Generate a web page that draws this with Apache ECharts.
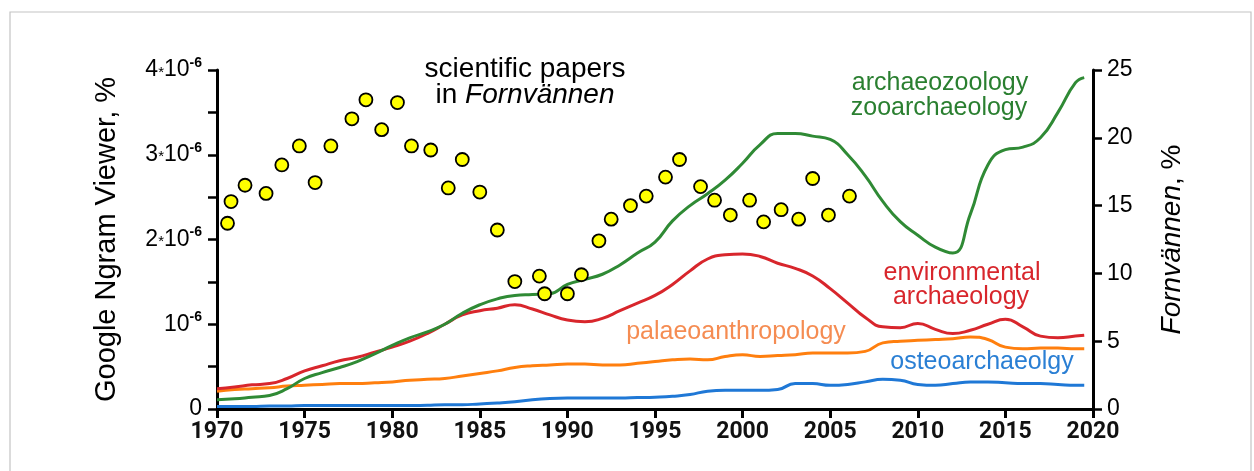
<!DOCTYPE html>
<html>
<head>
<meta charset="utf-8">
<script src="https://cdn.jsdelivr.net/npm/echarts@6/dist/echarts.min.js"></script>
<style>
  html, body { margin: 0; padding: 0; background: #fff; }
  #chart { width: 1254px; height: 471px; }
</style>
</head>
<body>
<div id="chart"></div>
<script>
// Google Ngram shares, in units of 10^-6 %
const lineYears = [1970, 1971, 1972, 1973, 1974, 1975, 1976, 1977, 1978, 1979,
  1980, 1981, 1982, 1983, 1984, 1985, 1986, 1987, 1988, 1989,
  1990, 1991, 1992, 1993, 1994, 1995, 1996, 1997, 1998, 1999,
  2000, 2001, 2002, 2003, 2004, 2005, 2006, 2007, 2008, 2009,
  2010, 2011, 2012, 2013, 2014, 2015, 2016, 2017, 2018, 2019, 2019.5]

const zooarch = [0.11, 0.12, 0.14, 0.16, 0.24, 0.36, 0.43, 0.49, 0.56, 0.65,
  0.75, 0.84, 0.91, 1.00, 1.13, 1.23, 1.30, 1.34, 1.35, 1.36,
  1.47, 1.53, 1.59, 1.70, 1.84, 1.97, 2.22, 2.40, 2.54, 2.70,
  2.90, 3.12, 3.25, 3.25, 3.22, 3.18, 3.00, 2.75, 2.45, 2.21,
  2.05, 1.91, 1.84, 2.30, 2.88, 3.06, 3.09, 3.20, 3.50, 3.85, 3.91]

const envArch = [0.24, 0.26, 0.285, 0.30, 0.36, 0.45, 0.51, 0.57, 0.61, 0.67,
  0.73, 0.80, 0.89, 1.00, 1.11, 1.16, 1.19, 1.23, 1.18, 1.11,
  1.05, 1.03, 1.07, 1.16, 1.25, 1.34, 1.47, 1.63, 1.77, 1.82,
  1.83, 1.80, 1.72, 1.66, 1.57, 1.42, 1.25, 1.08, 0.97, 0.96,
  1.01, 0.94, 0.89, 0.93, 1.00, 1.06, 0.97, 0.86, 0.84, 0.86, 0.87]

const palaeoAnthro = [0.21, 0.23, 0.24, 0.25, 0.27, 0.28, 0.29, 0.30, 0.30, 0.31,
  0.32, 0.34, 0.35, 0.36, 0.39, 0.42, 0.45, 0.49, 0.51, 0.52,
  0.53, 0.53, 0.52, 0.52, 0.54, 0.56, 0.58, 0.59, 0.58, 0.62,
  0.64, 0.62, 0.63, 0.64, 0.66, 0.66, 0.66, 0.68, 0.78, 0.80,
  0.81, 0.82, 0.83, 0.85, 0.82, 0.73, 0.71, 0.72, 0.72, 0.71, 0.71]

const osteoArch = [0.03, 0.03, 0.03, 0.035, 0.035, 0.04, 0.04, 0.04, 0.04, 0.04,
  0.04, 0.04, 0.045, 0.05, 0.05, 0.06, 0.07, 0.085, 0.11, 0.125,
  0.13, 0.13, 0.13, 0.13, 0.135, 0.14, 0.15, 0.17, 0.21, 0.22,
  0.22, 0.22, 0.23, 0.30, 0.30, 0.28, 0.29, 0.32, 0.35, 0.34,
  0.29, 0.28, 0.30, 0.32, 0.32, 0.31, 0.30, 0.30, 0.29, 0.28, 0.28]

// scientific papers in Fornvännen, %
const paperYears = [1970.6, 1970.8, 1971.6, 1972.8, 1973.7, 1974.7, 1975.6, 1976.5, 1977.7, 1978.5,
  1979.4, 1980.3, 1981.1, 1982.2, 1983.2, 1984.0, 1985.0, 1986.0, 1987.0, 1988.4,
  1988.7, 1990.0, 1990.8, 1991.8, 1992.5, 1993.6, 1994.5, 1995.6, 1996.4, 1997.6,
  1998.4, 1999.3, 2000.4, 2001.2, 2002.2, 2003.2, 2004.0, 2004.9, 2006.1]
const paperShares = [13.7, 15.3, 16.5, 15.9, 18.0, 19.4, 16.7, 19.4, 21.4, 22.8,
  20.6, 22.6, 19.4, 19.1, 16.3, 18.4, 16.0, 13.2, 9.4, 9.8,
  8.5, 8.5, 9.9, 12.4, 14.0, 15.0, 15.7, 17.1, 18.4, 16.4,
  15.4, 14.3, 15.4, 13.8, 14.7, 14.0, 17.0, 14.3, 15.7]

const xTicks = { min: 1970, max: 2020, step: 5 }
const leftTicks = { min: 0, max: 4, step: 0.5 }
const rightTicks = { min: 0, max: 25, step: 5 }

const SANS = '"Liberation Sans", Arial, sans-serif'

function pairs(xs, ys) {
  return xs.map((x, i) => [x, ys[i]])
}

function leftLabel(v) {
  if (v === 0) return '0'
  if (v % 1 !== 0) return ''
  if (v === 1) return '{b|10}{s|-6}'
  return '{b|' + v + '}{a|*}{b|10}{s|-6}'
}

function lineSeries(name, values, color) {
  return {
    name: name,
    type: 'line',
    data: pairs(lineYears, values),
    smooth: 0.5,
    symbol: 'none',
    lineStyle: { color: color, width: 3 },
    z: 2
  }
}

function note(text, x, y, color, size) {
  return {
    type: 'text',
    x: x,
    y: y,
    style: {
      text: text,
      fill: color,
      font: (size || 25) + 'px ' + SANS,
      align: 'center',
      verticalAlign: 'middle'
    }
  }
}

const chart = echarts.init(document.getElementById('chart'))

chart.setOption({
  backgroundColor: '#fff',
  animation: false,
  grid: { left: 217, right: 161, top: 70, bottom: 62 },
  xAxis: {
    type: 'value',
    min: xTicks.min,
    max: xTicks.max,
    interval: xTicks.step,
    axisLine: { lineStyle: { color: '#000', width: 3 } },
    axisTick: { length: 9, lineStyle: { color: '#000', width: 3 } },
    axisLabel: {
      formatter: (v) => String(v),
      color: '#111', fontSize: 23, fontWeight: 'bold', fontFamily: 'Roboto', margin: 12
    },
    splitLine: { show: false }
  },
  yAxis: [
    {
      type: 'value',
      min: leftTicks.min,
      max: leftTicks.max,
      interval: leftTicks.step,
      name: 'Google Ngram Viewer, %',
      nameLocation: 'middle',
      nameGap: 96,
      nameRotate: 90,
      nameTextStyle: { color: '#000', fontSize: 29, fontFamily: SANS },
      axisLine: { show: true, lineStyle: { color: '#000', width: 3 } },
      axisTick: { length: 9, lineStyle: { color: '#000', width: 2.5 } },
      axisLabel: {
        formatter: leftLabel,
        margin: 15,
        color: '#000',
        fontFamily: SANS,
        fontSize: 23,
        rich: {
          b: { fontSize: 23, fontFamily: SANS, color: '#000' },
          a: { fontSize: 15, fontFamily: SANS, color: '#000', padding: [5, 0, 0, 0] },
          s: { fontSize: 14, fontFamily: SANS, fontWeight: 'bold', color: '#000', padding: [0, 0, 14, 0] }
        }
      },
      splitLine: { show: false }
    },
    {
      type: 'value',
      position: 'right',
      min: rightTicks.min,
      max: rightTicks.max,
      interval: rightTicks.step,
      name: '{i|Fornvännen}, %',
      nameLocation: 'middle',
      nameGap: 65,
      nameRotate: 90,
      nameTextStyle: {
        color: '#000', fontSize: 28, fontFamily: SANS,
        rich: { i: { fontStyle: 'italic', fontSize: 28, fontFamily: SANS, color: '#000' } }
      },
      axisLine: { show: true, lineStyle: { color: '#000', width: 3 } },
      axisTick: { length: 9, lineStyle: { color: '#000', width: 2.5 } },
      axisLabel: { color: '#000', fontSize: 23, fontFamily: SANS, margin: 14 },
      splitLine: { show: false }
    }
  ],
  series: [
    lineSeries('osteoarchaeolgy', osteoArch, '#1f78d6'),
    lineSeries('palaeoanthropology', palaeoAnthro, '#ff7f0e'),
    lineSeries('environmental archaeology', envArch, '#d8262c'),
    lineSeries('archaeozoology', zooarch, '#2f8a35'),
    {
      name: 'Fornvännen',
      type: 'scatter',
      yAxisIndex: 1,
      data: pairs(paperYears, paperShares),
      symbolSize: 13,
      itemStyle: { color: '#ffff00', borderColor: '#000', borderWidth: 1.8, opacity: 1 },
      z: 5
    }
  ],
  graphic: [
    {
      type: 'rect',
      shape: { x: 10, y: 12, width: 1241, height: 480 },
      style: { fill: null, stroke: '#c4c4c4', lineWidth: 1.2 },
      silent: true
    },
    note('scientific papers', 525, 69, '#000', 28),
    {
      type: 'text',
      x: 525,
      y: 95,
      style: {
        text: '{n|in }{i|Fornvännen}',
        align: 'center',
        verticalAlign: 'middle',
        rich: {
          n: { fontSize: 28, fontFamily: SANS, fill: '#000' },
          i: { fontSize: 28, fontFamily: SANS, fontStyle: 'italic', fill: '#000' }
        }
      }
    },
    note('archaeozoology', 940, 83, '#2a7f30'),
    note('zooarchaeology', 939, 108, '#2a7f30'),
    note('environmental', 962, 273, '#d8262c'),
    note('archaeology', 961, 297, '#d8262c'),
    note('palaeoanthropology', 736, 332, '#f58c52'),
    note('osteoarchaeolgy', 982, 362, '#2a7fd4')
  ]
})
</script>
</body>
</html>
